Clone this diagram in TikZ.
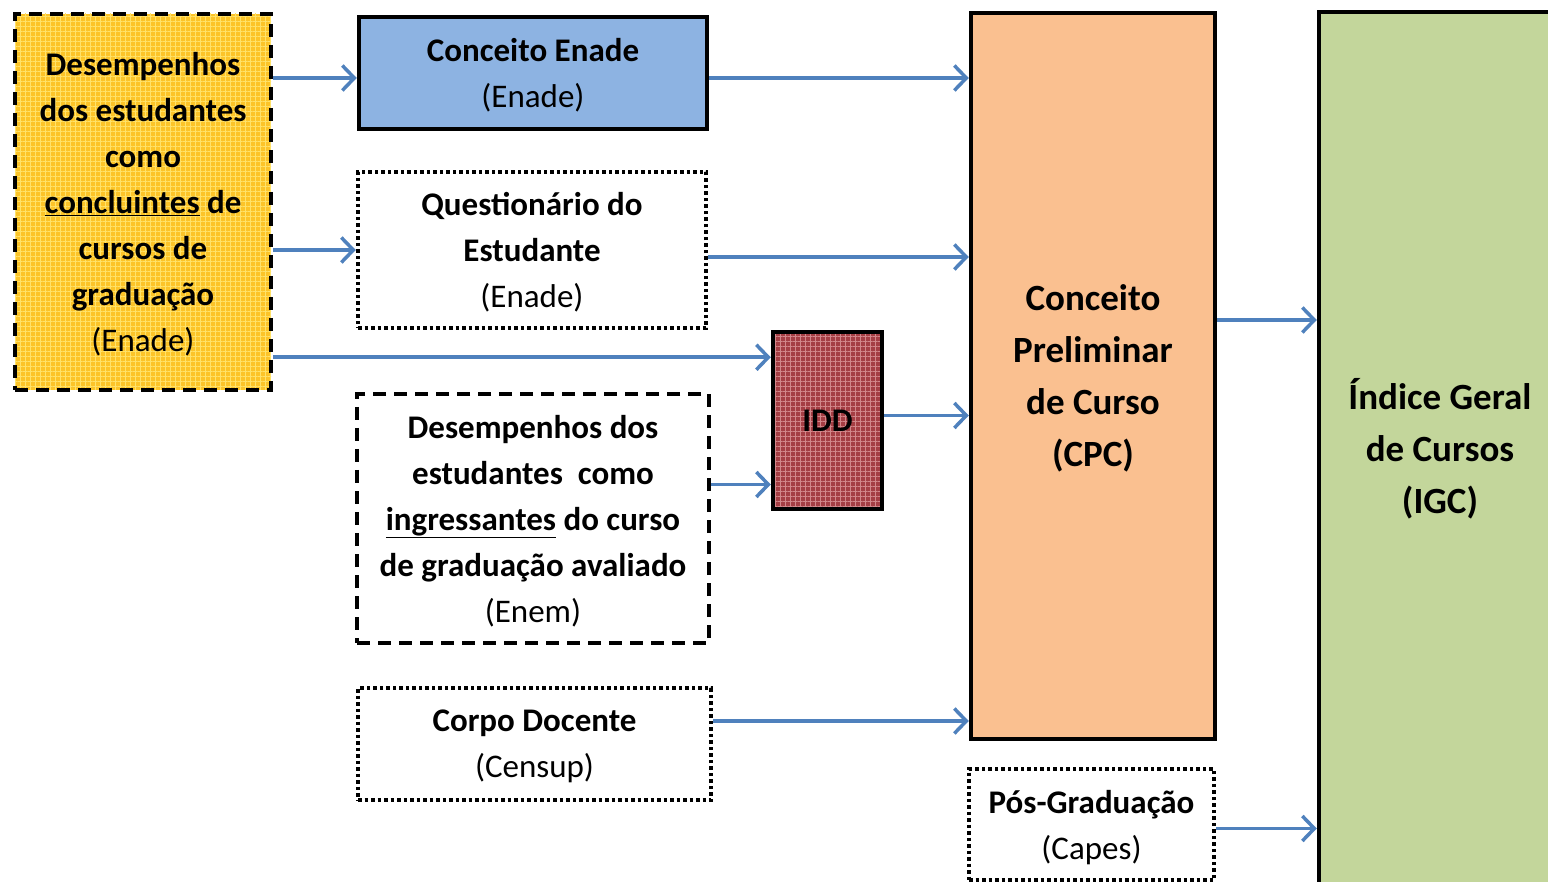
\documentclass[tikz,border=0pt]{standalone}
\usepackage{fontspec}
\setmainfont{Carlito}
\usepackage{tikz}
\usetikzlibrary{shapes,arrows.meta}
\usetikzlibrary{positioning}
\usetikzlibrary{patterns,patterns.meta}
\usetikzlibrary{calc}
\definecolor{flowblue}{HTML}{4F81BD}
\definecolor{enadeblue}{HTML}{8DB3E2}
\definecolor{cpcorange}{HTML}{FAC090}
\definecolor{igcgreen}{HTML}{C3D69B}
\definecolor{yelbase}{RGB}{252,196,40}
\definecolor{yelgrid}{RGB}{255,226,105}
\definecolor{iddbase}{RGB}{165,62,68}
\definecolor{iddgrid}{RGB}{210,135,138}
\tikzstyle{line} = [draw, -{Straight Barb[length=12pt,width=25pt,line width=3.5pt]}, line width=3.5pt, color=flowblue]

\begin{document}
\begin{tikzpicture}[x=1pt, y=-1pt,
	box/.style={draw=black, line width=4.5pt, inner sep=0pt, align=center,
		text depth=-3pt, font=\fontsize{33}{46}\selectfont},
	bigbox/.style={box, font=\fontsize{37}{52}\selectfont},
	dashbox/.style={box, dash pattern=on 13pt off 8pt},
	dotbox/.style={box, dash pattern=on 3.5pt off 3pt},
	gridfill/.style 2 args={preaction={fill=#1},
		preaction={pattern={Lines[distance=5pt,line width=1pt]}, pattern color=#2},
		preaction={pattern={Lines[angle=90,distance=5pt,line width=1pt]}, pattern color=#2}}]
	\useasboundingbox (0,0) rectangle (1548,882);
	\clip (0,0) rectangle (1548,882);
	\fill[white] (0,0) rectangle (1548,882);
	%% Boxes
	\node[dashbox, gridfill={yelbase}{yelgrid},
		minimum width=256pt, minimum height=376pt] (yel) at (143,202)
		{\textbf{Desempenhos}\\ \textbf{dos estudantes}\\ \textbf{como}\\
		 \textbf{\underline{concluintes} de}\\ \textbf{cursos de}\\ \textbf{graduação}\\ (Enade)};
	\node[box, fill=enadeblue, minimum width=348pt, minimum height=112pt] (ene) at (533,73)
		{\textbf{Conceito Enade}\\ (Enade)};
	\node[dotbox, fill=white, minimum width=348pt, minimum height=156pt] (que) at (532,250)
		{\textbf{Questionário do}\\ \textbf{Estudante}\\ (Enade)};
	\node[box, gridfill={iddbase}{iddgrid}, text depth=0pt,
		minimum width=109pt, minimum height=177pt] (idd) at (827.5,420.5)
		{\textbf{IDD}};
	\node[dashbox, fill=white, minimum width=352pt, minimum height=249pt] (ing) at (533,518.5)
		{\textbf{Desempenhos dos}\\ \textbf{estudantes\ \ como}\\ \textbf{\underline{ingressantes} do curso}\\
		 \textbf{de graduação avaliado}\\ (Enem)};
	\node[dotbox, fill=white, minimum width=353pt, minimum height=112pt] (doc) at (534.5,744)
		{\textbf{Corpo Docente}\\ (Censup)};
	\node[bigbox, fill=cpcorange, minimum width=244pt, minimum height=726pt] (cpc) at (1093,376)
		{\textbf{Conceito}\\ \textbf{Preliminar}\\ \textbf{de Curso}\\ \textbf{(CPC)}};
	\node[dotbox, fill=white, minimum width=245pt, minimum height=111pt] (pos) at (1091.5,824.5)
		{\textbf{Pós-Graduação}\\ (Capes)};
	\node[bigbox, fill=igcgreen, text depth=8pt, minimum width=242pt, minimum height=876pt] (igc) at (1440,450)
		{\textbf{Índice Geral}\\ \textbf{de Cursos}\\ \textbf{(IGC)}};
	%% Flows
	\coordinate (e1) at ([yshift=-5pt]ene.west);
	\coordinate (e4) at ([yshift=-5pt]ene.east);
	\coordinate (q5) at ([yshift=-7pt]que.east);
	\coordinate (y3) at ([yshift=35pt]yel.south east);
	\coordinate (i6) at ([yshift=34pt]ing.east);
	\coordinate (d7) at ([yshift=5pt]idd.east);
	\coordinate (d8) at ([yshift=23pt]doc.east);
	\coordinate (c9) at ([yshift=56pt]cpc.east);
	\coordinate (p10) at ([yshift=-4pt]pos.east);
	\path [line] (e1 -| yel.east) -- (e1);
	\path [line] (yel.east |- que.west) -- (que.west);
	\path [line] (y3) -- (y3 -| idd.west);
	\path [line] (e4) -- (e4 -| cpc.west);
	\path [line] (q5) -- (q5 -| cpc.west);
	\path [line] (i6) -- (i6 -| idd.west);
	\path [line] (d7) -- (d7 -| cpc.west);
	\path [line] (d8) -- (d8 -| cpc.west);
	\path [line] (c9) -- (c9 -| igc.west);
	\path [line] (p10) -- (p10 -| igc.west);
\end{tikzpicture}
\end{document}
